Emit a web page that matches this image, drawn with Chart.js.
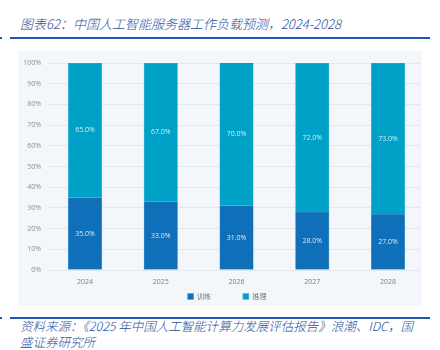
<!DOCTYPE html>
<html>
<head>
<meta charset="utf-8">
<script src="https://cdn.jsdelivr.net/npm/chart.js@4"></script>
<style>
  html, body { margin: 0; padding: 0; background: #ffffff; }
  body { width: 440px; height: 350px; position: relative; overflow: hidden; font-family: "Noto Sans CJK SC", "Noto Sans", sans-serif; }
  .title { position: absolute; left: 20px; top: 14px; font-size: 13px; font-weight: 300; font-style: italic; color: #2a4f9e; white-space: nowrap; }
  .rule { position: absolute; left: 10px; width: 420px; height: 2px; background: #2157b0; }
  .dot { position: absolute; left: 0; width: 2px; height: 2px; background: #2157b0; }
  .panel { position: absolute; left: 18px; top: 51px; width: 404px; height: 255px; background: #f3f6fb; }
  .source { position: absolute; left: 20px; top: 318px; width: 404px; font-size: 12.5px; font-weight: 300; line-height: 16px; font-style: italic; color: #2a4f9e; }
</style>
</head>
<body>
<div class="title">图表62：中国人工智能服务器工作负载预测，2024-2028</div>
<div class="rule" style="top:37px"></div>
<div class="dot" style="top:37px"></div>
<div class="panel"><canvas id="workload_chart" width="404" height="255"></canvas></div>
<div class="rule" style="top:317px"></div>
<div class="dot" style="top:317px"></div>
<div class="source">资料来源：《2025 年中国人工智能计算力发展评估报告》浪潮、IDC，国盛证券研究所</div>
<script>
const years = ["2024", "2025", "2026", "2027", "2028"];
const training_share = [35, 33, 31, 28, 27];
const inference_share = [65, 67, 70, 72, 73];
const y_ticks = [0, 10, 20, 30, 40, 50, 60, 70, 80, 90, 100];

const to_points = (values) => values.map((v, i) => ({ x: i, y: v }));

// draws the "35.0%" style labels in the middle of each segment
const segment_labels = {
    id: "segment_labels",
    afterLayout(chart) {
        // legend sits a little right of centre and lower in the original
        chart.legend.left += 8;
        chart.legend.right += 8;
        chart.legend.top += 4;
        chart.legend.bottom += 4;
    },
    afterDatasetsDraw(chart) {
        const ctx = chart.ctx;
        ctx.save();
        ctx.font = "7px 'Open Sans'";
        ctx.fillStyle = "#d9e8f5";
        ctx.textAlign = "center";
        ctx.textBaseline = "middle";
        chart.data.datasets.forEach((ds, di) => {
            chart.getDatasetMeta(di).data.forEach((bar, i) => {
                const top = Math.max(bar.y, chart.chartArea.top);
                ctx.fillText(ds.data[i].y.toFixed(1) + "%", bar.x, (top + bar.base) / 2);
            });
        });
        ctx.restore();
    }
};

const workload_chart = new Chart("workload_chart",
{
    type: "bar",
    data:
    {
        datasets:
        [
            {
                label: "训练",
                data: to_points(training_share),
                backgroundColor: "#0f6fb8",
                borderColor: "#5aa2d6",
                borderWidth: 0.6,
                barThickness: 33.5
            },
            {
                label: "推理",
                data: to_points(inference_share),
                backgroundColor: "#00a1c6",
                borderColor: "#5cc0dc",
                borderWidth: 0.6,
                barThickness: 33.5
            }
        ]
    },
    plugins: [segment_labels],
    options:
    {
        animation: false,
        responsive: false,
        layout:
        {
            padding: { top: 12, right: 2, left: 0, bottom: 0 }
        },
        plugins:
        {
            legend:
            {
                position: "bottom",
                labels:
                {
                    boxWidth: 6,
                    boxHeight: 6,
                    padding: 2,
                    color: "#777",
                    font: { size: 7, family: "'Noto Sans CJK SC'" },
                    generateLabels: (chart) => Chart.defaults.plugins.legend.labels.generateLabels(chart).map((item, i) => {
                        if (i === 0) item.text = item.text + "                   ";
                        return item;
                    })
                }
            },
            tooltip: { enabled: false }
        },
        scales:
        {
            x:
            {
                type: "linear",
                stacked: true,
                offset: false,
                min: -0.383,
                max: 4.422,
                afterBuildTicks: (scale) => { scale.ticks = years.map((y, i) => ({ value: i })); },
                afterFit: (scale) => { scale.height = 17; },
                grid: { display: false, offset: false },
                border: { display: false },
                ticks:
                {
                    callback: (v) => years[v] ?? "",
                    color: "#7a7f86",
                    padding: 0,
                    font: { size: 7, family: "'Open Sans'" }
                }
            },
            y:
            {
                stacked: true,
                min: 0,
                max: 100,
                afterBuildTicks: (scale) => { scale.ticks = y_ticks.map(v => ({ value: v })); },
                afterFit: (scale) => { scale.width = 38; },
                grid: { color: "#e2e7ee", lineWidth: 1 },
                border: { display: false },
                ticks:
                {
                    callback: (v) => v + "%",
                    color: "#8a8f96",
                    padding: 7,
                    font: { size: 7, family: "'Open Sans'" }
                }
            }
        }
    }
});
</script>
</body>
</html>
